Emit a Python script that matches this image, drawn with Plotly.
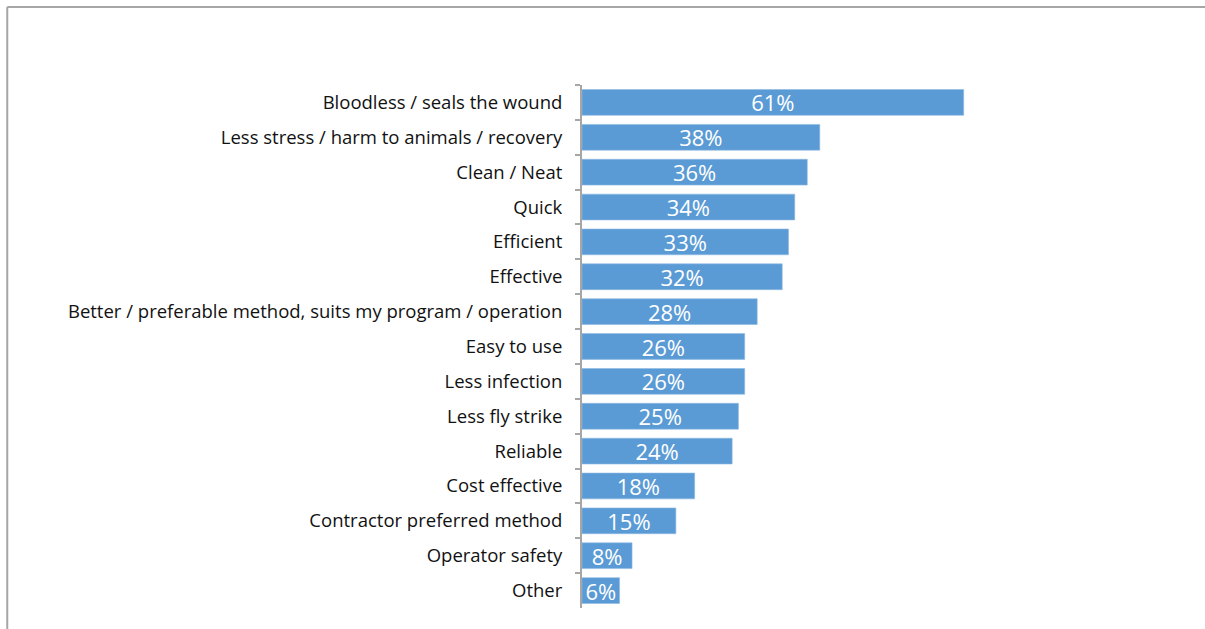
import plotly.graph_objects as go

# Reasons given for preferring the method (share of respondents, %)
categories = [
    "Bloodless / seals the wound",
    "Less stress / harm to animals / recovery",
    "Clean / Neat",
    "Quick",
    "Efficient",
    "Effective",
    "Better / preferable method, suits my program / operation",
    "Easy to use",
    "Less infection",
    "Less fly strike",
    "Reliable",
    "Cost effective",
    "Contractor preferred method",
    "Operator safety",
    "Other",
]
values = [61, 38, 36, 34, 33, 32, 28, 26, 26, 25, 24, 18, 15, 8, 6]
labels = [f"{v}%" for v in values]

FONT = "Open Sans, Noto Sans, sans-serif"
W, H = 1205, 629
ML, MT, MB = 582, 85, 21
XMAX = 70
PX_PER_UNIT = 6.26
plot_w = XMAX * PX_PER_UNIT
MR = W - ML - plot_w
plot_h = H - MT - MB

fig = go.Figure(
    go.Bar(
        x=values,
        y=categories,
        orientation="h",
        marker=dict(color="#5B9BD5", line=dict(color="#8DB8E3", width=0.6)),
        text=labels,
        textposition="inside",
        insidetextanchor="middle",
        textangle=0,
        textfont=dict(color="white", size=22, family=FONT),
        cliponaxis=False,
    )
)


def px_to_paper_x(px):
    return (px - ML) / plot_w


def px_to_paper_y(py):
    return 1 - (py - MT) / plot_h


# Outer frame: top and left edges
frame = dict(color="#A6A6A6", width=2)
fig.add_shape(type="line", xref="paper", yref="paper",
              x0=px_to_paper_x(7), x1=px_to_paper_x(W + 5),
              y0=px_to_paper_y(7), y1=px_to_paper_y(7), line=frame)
fig.add_shape(type="line", xref="paper", yref="paper",
              x0=px_to_paper_x(7), x1=px_to_paper_x(7),
              y0=px_to_paper_y(7), y1=px_to_paper_y(H + 5), line=frame)

fig.update_layout(
    width=W,
    height=H,
    margin=dict(l=ML, r=MR, t=MT, b=MB, pad=0),
    paper_bgcolor="white",
    plot_bgcolor="white",
    bargap=0.26,
    showlegend=False,
    font=dict(family=FONT, color="black"),
    uniformtext=dict(minsize=22, mode="show"),
)
fig.update_xaxes(range=[0, XMAX], visible=False)
fig.update_yaxes(
    autorange="reversed",
    showline=True,
    linecolor="#A6A6A6",
    linewidth=2,
    ticks="outside",
    tickson="boundaries",
    ticklen=5,
    tickwidth=2,
    tickcolor="#A6A6A6",
    ticklabelstandoff=14,
    tickfont=dict(size=18.5, color="#111111"),
    showgrid=False,
)

fig.write_html("out.html")
